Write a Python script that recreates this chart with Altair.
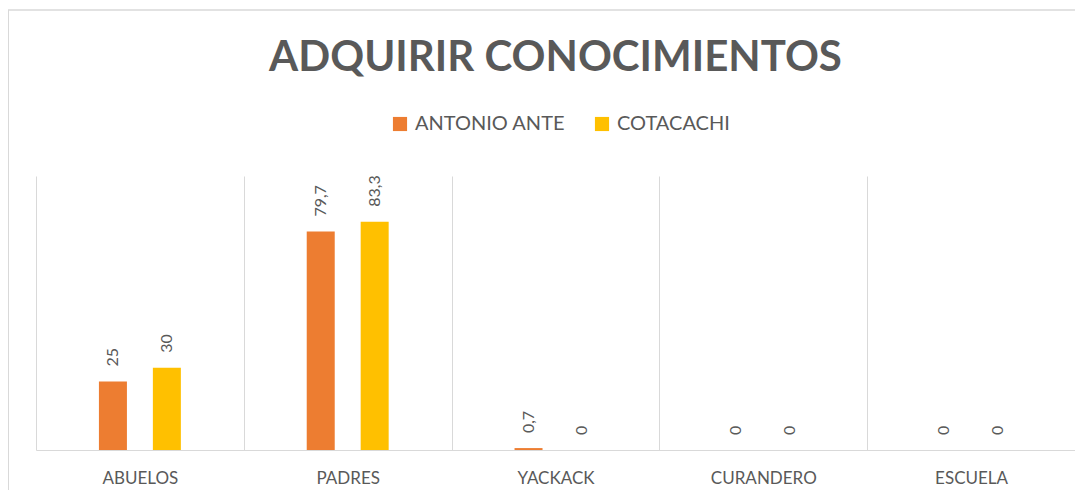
import altair as alt
import pandas as pd

categories = ["ABUELOS", "PADRES", "YACKACK", "CURANDERO", "ESCUELA"]
series = ["ANTONIO ANTE", "COTACACHI"]
antonio_ante = [25, 79.7, 0.7, 0, 0]
cotacachi = [30, 83.3, 0, 0, 0]
colors = ["#ED7D31", "#FFC000"]

rows = []
for i, c in enumerate(categories):
    rows.append({"cat": c, "serie": series[0], "val": antonio_ante[i]})
    rows.append({"cat": c, "serie": series[1], "val": cotacachi[i]})
df = pd.DataFrame(rows)

FONT = "Lato"
GRAY = "#595959"

xenc = alt.X("cat:N", sort=categories, title=None,
             scale=alt.Scale(paddingInner=0, paddingOuter=0),
             axis=alt.Axis(tickBand="extent", grid=True, gridColor="#D9D9D9",
                           domainColor="#D9D9D9", ticks=False, labelAngle=0,
                           labelFont=FONT, labelFontSize=17, labelColor=GRAY,
                           labelPadding=20))
xoff = alt.XOffset("serie:N", sort=series,
                   scale=alt.Scale(paddingInner=0.148, paddingOuter=1))
yenc = alt.Y("val:Q", scale=alt.Scale(domain=[0, 100]), axis=None)

base = alt.Chart(df)

bars = base.mark_bar(width=28).encode(
    x=xenc, xOffset=xoff, y=yenc,
    color=alt.Color("serie:N", sort=series,
                    scale=alt.Scale(domain=series, range=colors),
                    legend=alt.Legend(title=None, orient="none", direction="horizontal",
                                      legendX=354, legendY=-62, symbolType="square",
                                      symbolSize=200, symbolStrokeWidth=0,
                                      labelFont=FONT, labelFontSize=20, labelColor=GRAY,
                                      columnPadding=26, labelOffset=5)),
)

labels = base.transform_calculate(
    lab="replace(toString(datum.val), '.', ',')"
).mark_text(angle=270, align="left", baseline="middle", dx=15,
            font=FONT, fontSize=16, color=GRAY).encode(
    x=xenc, xOffset=xoff, y=yenc, text="lab:N")

border_left = alt.Chart(pd.DataFrame({"a": [0]})).mark_rule(color="#D9D9D9", strokeWidth=2).encode(
    x=alt.value(-28), y=alt.value(-166), y2=alt.value(320))
border_top = alt.Chart(pd.DataFrame({"a": [0]})).mark_rule(color="#D9D9D9", strokeWidth=1.5).encode(
    x=alt.value(-28), x2=alt.value(1060), y=alt.value(-166))

chart = alt.layer(border_left, border_top, bars, labels).properties(
    width=1039, height=274,
    autosize=alt.AutoSizeParams(type="none"),
    padding={"left": 28, "top": 168, "right": 0, "bottom": 40},
    title=alt.TitleParams("ADQUIRIR CONOCIMIENTOS", font=FONT, fontSize=42,
                          fontWeight="bold", color=GRAY, anchor="middle",
                          frame="group", offset=-104, baseline="alphabetic"),
).configure_view(stroke=None)

chart.save("out.html", embed_options={"renderer": "svg", "actions": False})
